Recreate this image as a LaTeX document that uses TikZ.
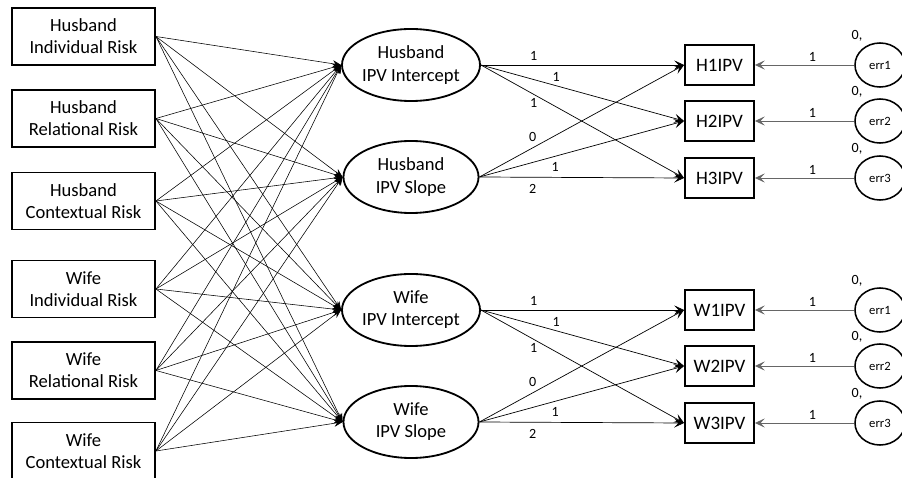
\documentclass[tikz,border=0pt]{standalone}
\usepackage{fontspec}
\setmainfont{Carlito}
\usetikzlibrary{arrows.meta, shapes.geometric}

\begin{document}
\begin{tikzpicture}[x=0.025cm, y=-0.025cm,
    risk/.style={draw, line width=1.3pt, minimum width=3.575cm, minimum height=1.425cm,
      align=center, inner sep=1pt, font=\fontsize{13.2}{15.8}\selectfont},
    latent/.style={draw, ellipse, line width=1.3pt, minimum width=3.375cm, minimum height=1.8cm,
      inner sep=0pt, align=center, font=\fontsize{13.2}{15.8}\selectfont},
    obs/.style={draw, line width=1.3pt, minimum width=1.725cm, minimum height=1cm,
      inner sep=1pt, font=\fontsize{13.5}{16}\selectfont},
    err/.style={draw, ellipse, line width=1.1pt, minimum width=1.25cm, minimum height=1.1cm,
      inner sep=0pt, font=\fontsize{9}{10}\selectfont},
    regr/.style={thin, -{Stealth[length=6pt, width=5pt, inset=2pt]}},
    load/.style={line width=.5pt, -{Stealth[length=7pt, width=6.5pt, inset=3pt]}},
    resid/.style={line width=.7pt, black!60, -{Stealth[length=7pt, width=6.5pt, inset=3pt]}},
    coef/.style={inner sep=1pt, text=black, font=\fontsize{10}{11}\selectfont}
  ]
  % frame
  \useasboundingbox (0,0) rectangle (902,478);

  % risk factors
  \node[risk] (hind) at (83.5,36.5)  {Husband\\Individual Risk};
  \node[risk] (hrel) at (83.5,118.5) {Husband\\Relational Risk};
  \node[risk] (hctx) at (83.5,201)   {Husband\\Contextual Risk};
  \node[risk] (wind) at (83.5,289)   {Wife\\Individual Risk};
  \node[risk] (wrel) at (83.5,370.5) {Wife\\Relational Risk};
  \node[risk] (wctx) at (83.5,451)   {Wife\\Contextual Risk};

  % growth factors
  \node[latent] (inth) at (411,65)  {Husband\\IPV Intercept};
  \node[latent] (slph) at (411,177) {Husband\\IPV Slope};
  \node[latent] (intw) at (411,310) {Wife\\IPV Intercept};
  \node[latent] (slpw) at (411,422) {Wife\\IPV Slope};

  % indicators
  \node[obs] (obsh1) at (719.5,65)  {H1IPV};
  \node[obs] (obsh2) at (719.5,121) {H2IPV};
  \node[obs] (obsh3) at (719.5,178) {H3IPV};
  \node[obs] (obsw1) at (719.5,310) {W1IPV};
  \node[obs] (obsw2) at (719.5,366) {W2IPV};
  \node[obs] (obsw3) at (719.5,423) {W3IPV};

  % risk -> growth
  \foreach \r in {hind,hrel,hctx,wind,wrel,wctx}
    \foreach \l in {inth,slph,intw,slpw}
      \draw[regr] (\r.east) -- (\l.west);

  % growth -> indicators, errors
  \foreach \g/\y in {h/65, w/310} {
    \draw[load] (int\g.east) -- node[coef, pos=.26, above=2pt] (ci\g1) {1} (obs\g1.west);
    \draw[load] (int\g.east) -- node[coef, pos=.37, above=2pt] (ci\g2) {1} (obs\g2.west);
    \draw[load] (int\g.east) -- node[coef, pos=.26, below=2pt] (ci\g3) {1} (obs\g3.west);
    \draw[load] (slp\g.east) -- node[coef, pos=.26, above=3pt] (cs\g1) {0} (obs\g1.west);
    \draw[load] (slp\g.east) -- node[coef, pos=.37, below=3pt] (cs\g2) {1} (obs\g2.west);
    \draw[load] (slp\g.east) -- node[coef, pos=.26, below=4pt] (cs\g3) {2} (obs\g3.west);

    \foreach \i/\dy in {1/0, 2/56, 3/113} {
      \node[err] (err\g\i) at (880,\y+\dy) {err\i};
      \node[coef] (var\g\i) at ([shift={(-23,-29)}]err\g\i.center) {0,};
      \draw[resid] (err\g\i.west) -- node[coef, pos=.42, above=1pt] (ce\g\i) {1} (obs\g\i.east);
    }
  }
\end{tikzpicture}
\end{document}
